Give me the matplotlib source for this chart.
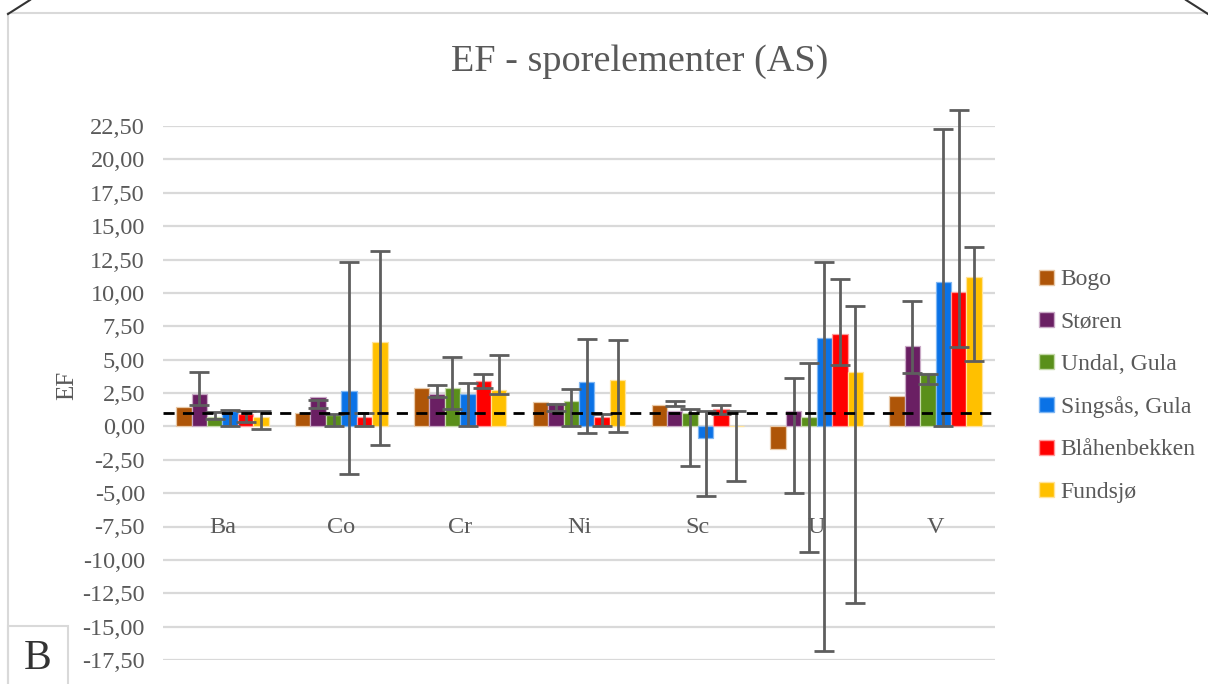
import matplotlib
matplotlib.use("Agg")
import matplotlib.pyplot as plt
import numpy as np
from matplotlib.patches import Patch, Rectangle
from matplotlib.lines import Line2D

plt.rcParams['font.family'] = ['Liberation Serif', 'DejaVu Serif']

categories = ["Ba", "Co", "Cr", "Ni", "Sc", "U", "V"]
series = ["Bogo", "Støren", "Undal, Gula", "Singsås, Gula", "Blåhenbekken", "Fundsjø"]
colors = ["#AE5508", "#6A1F63", "#5A8F1A", "#0A72E6", "#FF0000", "#FFC000"]
edges = ["#E8C9A8", "#C9A9C6", "#C5DAA9", "#7FB6F2", "#FF9A9A", "#FFE39A"]

bogo = [1.48, 0.98, 2.88, 1.80, 1.58, -1.68, 2.30]
storen = [2.43, 2.20, 2.45, 1.73, 1.15, 1.15, 6.05]
undal = [0.73, 0.83, 2.88, 1.93, 1.03, 0.73, 4.00]
singsas = [1.15, 2.65, 2.45, 3.30, -0.90, 6.60, 10.80]
blahenbekken = [0.93, 0.70, 3.38, 0.70, 1.33, 6.92, 10.10]
fundsjo = [0.70, 6.33, 2.70, 3.45, 0.00, 4.08, 11.20]

# error bar ends (low, high); None = no error bar
bogo_err = [None] * 7
storen_err = [(1.58, 4.08), (1.40, 1.95), (2.20, 3.10), (1.15, 1.65), (1.55, 1.90), (-5.00, 3.60), (4.03, 9.41)]
undal_err = [(0.57, 1.08), (0.00, 0.90), (1.28, 5.20), (0.00, 2.78), (-2.98, 1.33), (-9.42, 4.73), (3.19, 3.92)]
singsas_err = [(0.00, 1.20), (-3.53, 12.28), (0.00, 3.25), (-0.53, 6.55), (-5.23, 1.15), (-16.80, 12.30), (0.00, 22.30)]
blahenbekken_err = [(0.33, 1.15), (0.00, 1.03), (2.90, 3.90), (0.00, 0.95), (0.95, 1.60), (4.63, 11.05), (5.97, 23.70)]
fundsjo_err = [(-0.18, 1.15), (-1.43, 13.10), (2.43, 5.38), (-0.43, 6.50), (-4.10, 1.15), (-13.20, 9.02), (4.86, 13.45)]

yticks = [-17.5, -15, -12.5, -10, -7.5, -5, -2.5, 0, 2.5, 5, 7.5, 10, 12.5, 15, 17.5, 20, 22.5]
reference_level = 1.0

values = [bogo, storen, undal, singsas, blahenbekken, fundsjo]
errs = [bogo_err, storen_err, undal_err, singsas_err, blahenbekken_err, fundsjo_err]

W, H = 1208, 684
fig = plt.figure(figsize=(W / 100, H / 100), dpi=100)
ax = fig.add_axes([163 / W, 1 - 660 / H, 832 / W, 534 / H])

gray = "#595959"
x = np.arange(len(categories))
bw = 0.13
n = len(series)
for i, (name, vals, err) in enumerate(zip(series, values, errs)):
    xs = x + (i - (n - 1) / 2) * bw
    ax.bar(xs, vals, width=bw, color=colors[i], edgecolor=edges[i], linewidth=0.9, zorder=3, label=name)
    for xi, e in zip(xs, err):
        if e is None:
            continue
        lo, hi = e
        ax.errorbar([xi], [(lo + hi) / 2], yerr=[(hi - lo) / 2], fmt='none', ecolor="#5E5E5E",
                    elinewidth=2.0, capsize=7, capthick=2.0, zorder=5, clip_on=False)

ax.axhline(reference_level, color="black", lw=2.0, ls=(0, (4, 3)), zorder=6)

ax.set_xlim(-0.5, len(categories) - 0.5)
ax.set_ylim(-17.5, 22.5)
ax.set_yticks(yticks)
ax.set_yticklabels([f"{v:.2f}".replace(".", ",") for v in yticks])
ax.yaxis.grid(True, color="#D9D9D9", lw=1.6, zorder=0)
ax.set_axisbelow(True)
ax.tick_params(axis='y', length=0, pad=13, labelsize=17.5, labelcolor=gray)
ax.tick_params(axis='x', length=0, labelbottom=False)
for s in ax.spines.values():
    s.set_visible(False)

for xi, c in zip(x, categories):
    ax.text(xi, -7.55, c, ha='center', va='center', fontsize=17.5, color=gray, zorder=4)

fig.text(67 / W, 1 - 385 / H, "EF", rotation=90, ha='center', va='center', fontsize=18, color=gray)
fig.text(640 / W, 1 - 62 / H, "EF - sporelementer (AS)", ha='center', va='center', fontsize=27.5, color=gray)

handles = [Patch(facecolor=colors[i], edgecolor=edges[i], label=series[i]) for i in range(n)]
fig.legend(handles=handles, loc='center left', bbox_to_anchor=(1030 / W, 1 - 386 / H), frameon=False,
           fontsize=17, labelcolor=gray, handlelength=0.6, handleheight=0.6, handletextpad=0.3,
           labelspacing=0.9, borderaxespad=0)

# chart frame and panel box
fig.add_artist(Line2D([8 / W, 8 / W], [0, 1 - 13 / H], transform=fig.transFigure, color="#D9D9D9", lw=1.5))
fig.add_artist(Line2D([12 / W, 1], [1 - 13 / H, 1 - 13 / H], transform=fig.transFigure, color="#D9D9D9", lw=1.5))
fig.add_artist(Line2D([8 / W, 30 / W], [1 - 14 / H, 1], transform=fig.transFigure, color="#333333", lw=1.5))
fig.add_artist(Line2D([1186 / W, 1], [1, 1 - 14 / H], transform=fig.transFigure, color="#333333", lw=1.5))
fig.add_artist(Rectangle((8 / W, -0.01), 60 / W, (684 - 626) / H + 0.01, transform=fig.transFigure,
                         facecolor="white", edgecolor="#D9D9D9", lw=1.5))
fig.text(38 / W, 1 - 659 / H, "B", ha='center', va='center', fontsize=30, color="#333333")

fig.savefig("out.png", dpi=100, facecolor="white")
